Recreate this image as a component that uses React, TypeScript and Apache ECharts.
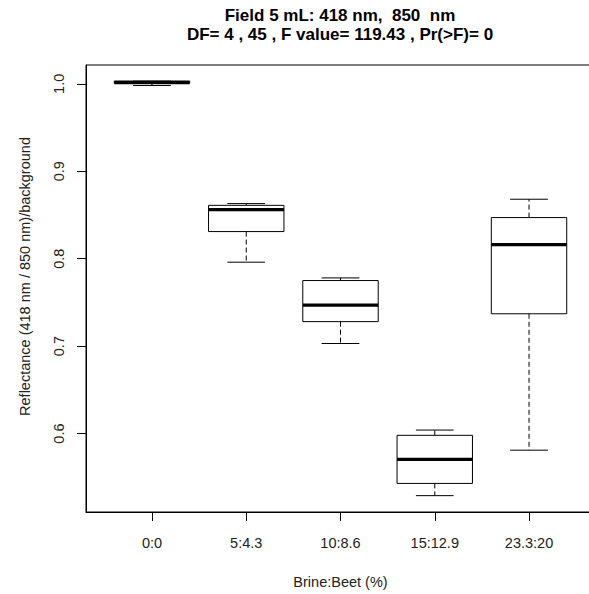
import React, { useEffect, useRef } from "react";
import * as echarts from "echarts";

const categories = ["0:0", "5:4.3", "10:8.6", "15:12.9", "23.3:20"];
const lowerWhisker = [0.998, 0.796, 0.703, 0.529, 0.581];
const lowerQuartile = [1.001, 0.831, 0.728, 0.543, 0.737];
const medians = [1.0015, 0.856, 0.747, 0.5705, 0.816];
const upperQuartile = [1.003, 0.861, 0.775, 0.598, 0.847];
const upperWhisker = [1.003, 0.863, 0.778, 0.604, 0.868];
const yTicks = [0.6, 0.7, 0.8, 0.9, 1.0];
const xTicks = [1, 2, 3, 4, 5];

const FONT = "Liberation Sans, Arial, sans-serif";

export default function App() {
  const ref = useRef<HTMLDivElement>(null);
  useEffect(() => {
    if (!ref.current) return;
    const chart = echarts.init(ref.current, null, { renderer: "svg" });
    const data = categories.map((_, i) => [
      i + 1,
      lowerWhisker[i],
      lowerQuartile[i],
      medians[i],
      upperQuartile[i],
      upperWhisker[i],
    ]);
    chart.setOption({
      animation: false,
      backgroundColor: "#fff",
      title: {
        text: "Field 5 mL: 418 nm,  850  nm\nDF= 4 , 45 , F value= 119.43 , Pr(>F)= 0",
        left: 340,
        top: 6,
        padding: 0,
        textAlign: "center",
        textStyle: {
          fontFamily: FONT,
          fontWeight: "bold",
          fontSize: 17,
          lineHeight: 19,
          color: "#000",
        },
      },
      grid: {
        left: 86,
        right: 5,
        top: 65,
        bottom: 77,
        show: true,
        borderColor: "#000",
        borderWidth: 1,
        backgroundColor: "transparent",
      },
      xAxis: {
        type: "value",
        min: 0.3,
        max: 5.7,
        name: "Brine:Beet (%)",
        nameLocation: "middle",
        nameGap: 62,
        nameTextStyle: { fontFamily: FONT, fontSize: 14.5, color: "#222" },
        axisLine: { show: true, onZero: false, lineStyle: { color: "#000", width: 1 } },
        axisTick: {
          show: true,
          length: 9,
          customValues: xTicks,
          lineStyle: { color: "#000", width: 1 },
        },
        axisLabel: {
          customValues: xTicks,
          margin: 23,
          fontFamily: FONT,
          fontSize: 14.5,
          color: "#222",
          formatter: (v: number) => categories[Math.round(v) - 1] ?? "",
        },
        splitLine: { show: false },
      },
      yAxis: {
        type: "value",
        min: 0.5103,
        max: 1.0215,
        name: "Reflectance (418 nm / 850 nm)/background",
        nameLocation: "middle",
        nameGap: 54,
        nameTextStyle: {
          fontFamily: FONT,
          fontSize: 14.5,
          color: "#222",
          padding: [0, 0, 0, 24],
        },
        axisLine: { show: true, lineStyle: { color: "#000", width: 1 } },
        axisTick: {
          show: true,
          length: 9,
          customValues: yTicks,
          lineStyle: { color: "#000", width: 1 },
        },
        axisLabel: {
          customValues: yTicks,
          rotate: 90,
          margin: 20,
          fontFamily: FONT,
          fontSize: 14.5,
          color: "#222",
          formatter: (v: number) => v.toFixed(1),
        },
        splitLine: { show: false },
      },
      series: [
        {
          type: "custom",
          data,
          encode: { x: 0, y: [1, 2, 3, 4, 5] },
          renderItem: (params: any, api: any) => {
            const xv = api.value(0);
            const lo = api.coord([xv, api.value(1)]);
            const q1 = api.coord([xv, api.value(2)]);
            const md = api.coord([xv, api.value(3)]);
            const q3 = api.coord([xv, api.value(4)]);
            const hi = api.coord([xv, api.value(5)]);
            const w = api.size([1, 0])[0] * 0.8;
            const cx = lo[0];
            const stroke = { stroke: "#000", lineWidth: 1 };
            const dashed = { stroke: "#000", lineWidth: 1, lineDash: [5, 3] };
            return {
              type: "group",
              children: [
                { type: "line", shape: { x1: cx, y1: q3[1], x2: cx, y2: hi[1] }, style: dashed },
                { type: "line", shape: { x1: cx, y1: q1[1], x2: cx, y2: lo[1] }, style: dashed },
                { type: "line", shape: { x1: cx - w / 4, y1: hi[1], x2: cx + w / 4, y2: hi[1] }, style: stroke },
                { type: "line", shape: { x1: cx - w / 4, y1: lo[1], x2: cx + w / 4, y2: lo[1] }, style: stroke },
                {
                  type: "rect",
                  shape: { x: cx - w / 2, y: q3[1], width: w, height: q1[1] - q3[1] },
                  style: { fill: "#fff", stroke: "#000", lineWidth: 1 },
                },
                {
                  type: "line",
                  shape: { x1: cx - w / 2, y1: md[1], x2: cx + w / 2, y2: md[1] },
                  style: { stroke: "#000", lineWidth: 3.3 },
                },
              ],
            };
          },
        },
      ],
    });
    return () => chart.dispose();
  }, []);
  return (
    <div style={{ position: "absolute", left: 0, top: 0, width: 589, height: 594, overflow: "hidden" }}>
      <div ref={ref} style={{ width: 600, height: 594 }} />
    </div>
  );
}
